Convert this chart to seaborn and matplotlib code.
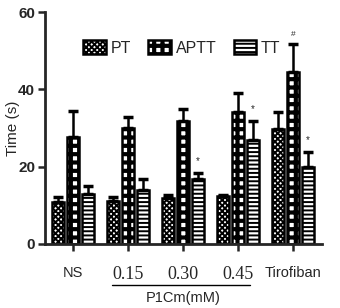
import matplotlib
matplotlib.use("Agg")
import matplotlib.pyplot as plt
import matplotlib.patches as mpatches
import matplotlib.transforms as mtransforms
import numpy as np
import pandas as pd
import seaborn as sns

groups = ['NS', '0.15', '0.30', '0.45', 'Tirofiban']
tests = ['PT', 'APTT', 'TT']
pt = [10.8, 11.0, 11.8, 12.3, 29.7]
pt_err = [1.3, 1.1, 0.8, 0.4, 4.5]
aptt = [27.6, 30.1, 31.9, 34.2, 44.6]
aptt_err = [6.8, 2.8, 3.1, 4.9, 7.0]
tt = [12.9, 14.0, 16.9, 26.8, 20.0]
tt_err = [2.0, 2.8, 1.5, 5.0, 3.8]
# significance marks: (test, group, symbol)
marks = [('TT', '0.30', '*'), ('TT', '0.45', '*'), ('APTT', 'Tirofiban', '#'), ('TT', 'Tirofiban', '*')]

df = pd.DataFrame({
    'group': groups * 3,
    'test': ['PT'] * 5 + ['APTT'] * 5 + ['TT'] * 5,
    'time': pt + aptt + tt,
})
errs = {'PT': pt_err, 'APTT': aptt_err, 'TT': tt_err}
vals = {'PT': pt, 'APTT': aptt, 'TT': tt}
hatches = {'PT': 'xxxxxx', 'APTT': '++', 'TT': '----'}
hatch_lw = {'PT': 1.4, 'APTT': 3.0, 'TT': 1.4}

sns.set_style('ticks')
plt.rcParams['font.family'] = ['Liberation Sans', 'DejaVu Sans']
plt.rcParams['hatch.linewidth'] = 1.4

fig = plt.figure(figsize=(3.4, 3.08), dpi=100)
ax = fig.add_axes([0.132, 0.208, 0.815, 0.753])

sns.barplot(data=df, x='group', y='time', hue='test', order=groups, hue_order=tests,
            errorbar=None, width=0.82, gap=0.17, legend=False, ax=ax)

def style_patch(p, t):
    p.set_facecolor('white')
    p.set_edgecolor('black')
    p.set_linewidth(1.8)
    p.set_hatch(hatches[t])
    if hasattr(p, 'set_hatch_linewidth'):
        p.set_hatch_linewidth(hatch_lw[t])

for cont, t in zip(ax.containers, tests):
    xs = []
    for p in cont.patches:
        style_patch(p, t)
        xs.append(p.get_x() + p.get_width() / 2)
    xs = np.array(xs)
    ax.errorbar(xs, vals[t], yerr=[np.zeros(5), errs[t]], fmt='none', ecolor='black',
                elinewidth=1.8, capsize=3.5, capthick=2.5, zorder=1)
    for mt, g, s in marks:
        if mt == t:
            i = groups.index(g)
            ax.text(xs[i], vals[t][i] + errs[t][i] + 1.8, s, ha='center', va='bottom',
                    fontsize=6 if s == '#' else 7)

ax.set_ylim(0, 60)
ax.set_xlim(-0.51, 4.53)
ax.set_yticks([0, 20, 40, 60])
ax.set_yticklabels(['0', '20', '40', '60'], fontsize=11, fontweight='bold',
                   family=['Liberation Sans Narrow', 'Liberation Sans'])
ax.set_ylabel('Time (s)', fontsize=11)
ax.yaxis.set_label_coords(-0.09, 0.5)
ax.set_xlabel('')
ax.set_xticks(range(5))
ax.set_xticklabels(groups, fontsize=10.5)
for lab in ax.get_xticklabels():
    if lab.get_text() in ('0.15', '0.30', '0.45'):
        lab.set_family(['Liberation Serif'])
        lab.set_fontsize(13)
ax.tick_params(axis='x', length=5, width=1.8, pad=11)
ax.tick_params(axis='y', length=5, width=1.8, pad=2)
for sp in ['left', 'bottom']:
    ax.spines[sp].set_linewidth(2)
sns.despine(ax=ax)

trans = mtransforms.blended_transform_factory(ax.transData, ax.transAxes)
ax.plot([0.71, 3.22], [-0.175, -0.175], color='black', lw=1, transform=trans, clip_on=False)
ax.text(2, -0.235, 'P1Cm(mM)', transform=trans, ha='center', va='center', fontsize=10.5)

handles = []
for t in tests:
    h = mpatches.Patch(facecolor='white', edgecolor='black', linewidth=1.8, hatch=hatches[t], label=t)
    handles.append(h)
leg = ax.legend(handles=handles, loc='center left', bbox_to_anchor=(0.11, 0.845), ncol=3, frameon=False,
                handlelength=1.4, handleheight=0.9, handletextpad=0.3, columnspacing=1.1,
                borderpad=0, prop={'family': ['Liberation Sans Narrow', 'Liberation Sans'], 'size': 11.5})
for p, t in zip(leg.get_patches(), tests):
    if hasattr(p, 'set_hatch_linewidth'):
        p.set_hatch_linewidth(hatch_lw[t])

fig.savefig('out.png', dpi=100)
